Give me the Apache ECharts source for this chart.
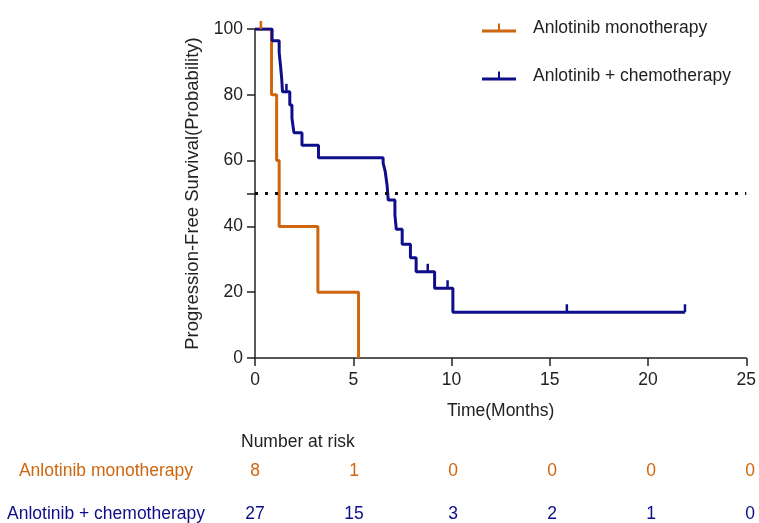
<!DOCTYPE html>
<html>
<head>
<meta charset="utf-8">
<script src="https://cdn.jsdelivr.net/npm/echarts@6/dist/echarts.min.js"></script>
<style>
    html, body { margin: 0; padding: 0; background: #fff; }
    #pfsChart { width: 759px; height: 523px; }
</style>
</head>
<body>
<div id="pfsChart"></div>
<script>
// Kaplan-Meier steps (months, % progression-free)
const monoTimes = [0, 0.84, 1.10, 1.23, 3.2, 5.27];
const monoSurv = [100, 80, 60, 40, 20, 0];
const monoCensorTimes = [0.3];
const monoCensorSurv = [100];

const comboTimes = [0, 0.87, 1.23, 1.30, 1.36, 1.40, 1.77, 1.88, 1.98, 2.39, 3.23, 6.52, 6.62, 6.72, 6.78, 7.12, 7.19, 7.49, 7.91, 8.20, 9.14, 10.07, 21.88];
const comboSurv = [100, 96.4, 92.8, 88.7, 84.8, 80.9, 76.9, 72.9, 68.5, 64.7, 60.9, 59.2, 56.9, 52.6, 48.0, 43.5, 39.1, 34.6, 30.5, 26.2, 21.2, 13.9, 13.9];
const comboCensorTimes = [1.6, 8.79, 9.8, 15.87, 21.88];
const comboCensorSurv = [80.9, 26.2, 21.2, 13.9, 13.9];

const xTicks = [0, 5, 10, 15, 20, 25];
const yTicks = [0, 20, 40, 60, 80, 100];
const medianLine = 50;

const groups = ["Anlotinib monotherapy", "Anlotinib + chemotherapy"];
const riskTimes = [0, 5, 10, 15, 20, 25];
const monoRisk = [8, 1, 0, 0, 0, 0];
const comboRisk = [27, 15, 3, 2, 1, 0];

const ORANGE = "#cf660e";
const BLUE = "#0e0e8a";
const FONT = "'Liberation Sans', Arial, sans-serif";
const FS = 17.5;

const zip = (a, b) => a.map((v, i) => [v, b[i]]);
const legendIcon = "path://M0,6 H34 V9 H0 Z M16,0 H18 V6 H16 Z";

function riskRow(values, row, color) {
    return {
        type: "scatter",
        xAxisIndex: 1,
        yAxisIndex: 2,
        symbolSize: 1,
        itemStyle: { color: "rgba(0,0,0,0)", opacity: 1 },
        label: {
            show: true,
            position: "inside",
            fontSize: FS,
            color: color,
            opacity: 1,
            formatter: p => String(p.value[2]),
        },
        data: riskTimes.map((t, i) => [t, row, values[i]]),
        clip: false,
    };
}

let options = {
    animation: false,
    textStyle: { fontFamily: FONT },
    title: {
        text: "Number at risk",
        left: 236,
        top: 428,
        textStyle: { fontSize: FS, fontWeight: "normal", color: "#222", fontFamily: FONT },
    },
    legend: {
        orient: "vertical",
        left: 477,
        top: 14,
        itemGap: 30,
        itemWidth: 34,
        itemHeight: 9,
        textStyle: { fontSize: FS, color: "#222", padding: [0, 0, 0, 12] },
        data: [
            { name: groups[0], icon: legendIcon },
            { name: groups[1], icon: legendIcon },
        ],
    },
    grid: [
        { left: 255, right: 9, top: 29, bottom: 165 },
        { left: 255, right: 9, top: 471, height: 45 },
    ],
    xAxis: [
        {
            type: "value",
            min: xTicks[0],
            max: xTicks[xTicks.length - 1],
            interval: 5,
            name: "Time(Months)",
            nameLocation: "middle",
            nameGap: 44,
            nameTextStyle: { fontSize: FS, color: "#222" },
            splitLine: { show: false },
            axisLine: { lineStyle: { color: "#222", width: 1.5 } },
            axisTick: { length: 8, lineStyle: { color: "#222", width: 1.5 } },
            axisLabel: { fontSize: FS, color: "#222", margin: 13 },
        },
        {
            gridIndex: 1,
            type: "value",
            min: 0,
            max: 25,
            show: false,
        },
    ],
    yAxis: [
        {
            type: "value",
            min: yTicks[0],
            max: yTicks[yTicks.length - 1],
            interval: 20,
            name: "Progression-Free Survival(Probability)",
            nameLocation: "middle",
            nameGap: 53,
            nameTextStyle: { fontSize: 18.5, color: "#222" },
            splitLine: { show: false },
            axisLine: { show: true, lineStyle: { color: "#222", width: 1.5 } },
            axisTick: { show: true, length: 8, lineStyle: { color: "#222", width: 1.5 } },
            axisLabel: { fontSize: FS, color: "#222", margin: 12 },
        },
        {
            // only the extra tick at 50
            type: "value",
            min: 0,
            max: 100,
            interval: 50,
            position: "left",
            splitLine: { show: false },
            axisLine: { show: false },
            axisLabel: { show: false },
            axisTick: { show: true, length: 8, lineStyle: { color: "#222", width: 1.5 } },
        },
        {
            gridIndex: 1,
            type: "category",
            inverse: true,
            boundaryGap: false,
            data: groups,
            axisLine: { show: false },
            axisTick: { show: false },
            axisLabel: {
                margin: 149,
                align: "center",
                fontSize: FS,
                formatter: (v, i) => (i === 0 ? "{a|" + v + "}" : "{b|" + v + "}"),
                rich: {
                    a: { color: ORANGE, fontSize: FS, fontFamily: FONT },
                    b: { color: BLUE, fontSize: FS, fontFamily: FONT },
                },
            },
        },
    ],
    series: [
        {
            name: groups[0],
            type: "line",
            step: "end",
            showSymbol: false,
            symbol: "none",
            color: ORANGE,
            lineStyle: { width: 3, color: ORANGE },
            data: zip(monoTimes, monoSurv),
            z: 3,
        },
        {
            name: groups[1],
            type: "line",
            step: "end",
            showSymbol: false,
            symbol: "none",
            color: BLUE,
            lineStyle: { width: 3, color: BLUE },
            data: zip(comboTimes, comboSurv),
            z: 4,
            markLine: {
                silent: true,
                symbol: "none",
                label: { show: false },
                lineStyle: { type: [3, 7], width: 3, color: "#111" },
                data: [{ yAxis: medianLine }],
            },
        },
        {
            name: groups[0],
            type: "scatter",
            symbol: "rect",
            symbolSize: [2.5, 8],
            symbolOffset: [0, -4],
            itemStyle: { color: ORANGE, opacity: 1 },
            data: zip(monoCensorTimes, monoCensorSurv),
            clip: false,
            z: 5,
        },
        {
            name: groups[1],
            type: "scatter",
            symbol: "rect",
            symbolSize: [2.5, 8],
            symbolOffset: [0, -4],
            itemStyle: { color: BLUE, opacity: 1 },
            data: zip(comboCensorTimes, comboCensorSurv),
            clip: false,
            z: 5,
        },
        riskRow(monoRisk, 0, ORANGE),
        riskRow(comboRisk, 1, BLUE),
    ],
};

let chart = echarts.init(document.getElementById("pfsChart"));
chart.setOption(options);
</script>
</body>
</html>
